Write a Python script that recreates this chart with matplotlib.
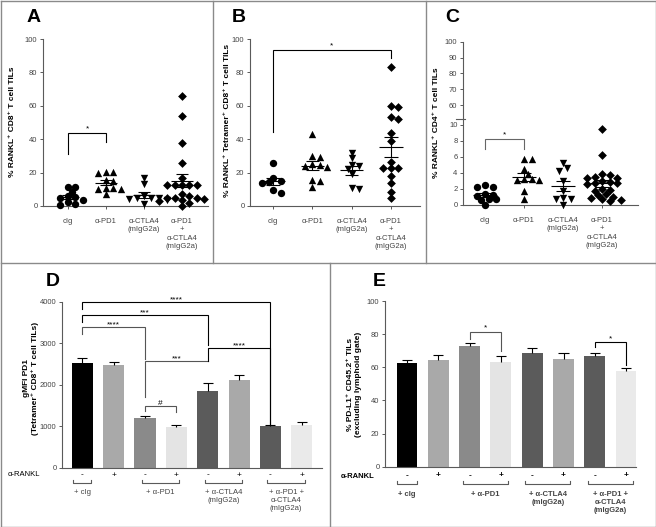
import numpy as np
import matplotlib
matplotlib.use("Agg")
import matplotlib.pyplot as plt
import matplotlib.transforms as mtransforms
from matplotlib.lines import Line2D

plt.rcParams['font.family'] = ['Liberation Sans', 'DejaVu Sans']

W, H = 656, 527

# ---- panels A-C: individual mice ----
abc_groups = ["cIg", "α-PD1", "α-CTLA4\n(mIgG2a)", "α-PD1\n+\nα-CTLA4\n(mIgG2a)"]
abc_markers = ["o", "^", "v", "D"]

a_cig = [11.5, 11.5, 8.5, 6, 5.5, 4.5, 3.5, 2.5, 1, 0.8]
a_pd1 = [20.5, 20.5, 20, 15.5, 15, 11, 10.5, 10, 10, 7]
a_ctla4 = [17, 13, 6, 5, 5, 4.5, 4, 3.5, 1]
a_combo = [66, 54, 37.5, 25.5, 16.5, 12.5, 12.5, 12.5, 12.5, 12.5,
           7, 6, 5, 5, 4.5, 4, 3.5, 3, 1.5, 0]

b_cig = [25.5, 17, 15, 14.5, 13.5, 9.5, 8]
b_pd1 = [43, 30, 29.5, 25, 24.5, 24, 23.5, 15.5, 15, 11.5]
b_ctla4 = [32, 28.5, 24.5, 24, 22, 19, 11, 10]
b_combo = [83, 60, 59, 53, 52, 43.5, 39, 26.5, 23, 23, 22.5, 18, 14, 8.5, 5]

c_cig = [2.5, 2.3, 2.2, 1.4, 1.3, 1.1, 0.8, 0.7, 0.6, 0.0]
c_pd1 = [5.7, 5.7, 4.5, 3.9, 3.3, 3.2, 3.1, 3.1, 1.7, 0.8]
c_ctla4 = [5.2, 4.6, 4.2, 3.0, 1.8, 0.9, 0.8, 0.8, 0.0]
c_combo = [9.5, 6.3, 3.9, 3.8, 3.5, 3.4, 3.4, 3.0, 2.9, 2.8, 2.7, 2.6,
           2.0, 1.9, 1.8, 1.4, 1.3, 1.0, 0.9, 0.7, 0.6, 0.5]

# ---- panels D-E: bars (mean, SEM) ----
rankl_signs = ["-", "+", "-", "+", "-", "+", "-", "+"]
treat_labels = ["+ cIg", "+ α-PD1", "+ α-CTLA4\n(mIgG2a)", "+ α-PD1 +\nα-CTLA4\n(mIgG2a)"]
treat_spans = [(0, 0), (2, 3), (4, 5), (6, 7)]
bar_colors = ["#000000", "#a9a9a9", "#8a8a8a", "#e4e4e4",
              "#5b5b5b", "#a9a9a9", "#5b5b5b", "#eaeaea"]

d_mean = [2520, 2470, 1185, 985, 1850, 2100, 990, 1025]
d_sem = [125, 65, 60, 45, 190, 130, 35, 75]
e_mean = [62.5, 64.2, 72.9, 63.1, 68.9, 64.8, 66.8, 57.5]
e_sem = [1.8, 3.2, 1.6, 3.6, 2.6, 3.6, 1.7, 2.0]

# significance: (x1, x2, y, leg1 bottom, leg2 bottom, label, colour)
d_sig = [(0, 6, 3983, 3830, 1060, "****", "black"),
         (0, 4, 3680, 3520, 2950, "***", "black"),
         (0, 2, 3380, 3220, 2620, "****", "#555555"),
         (2, 4, 2562, 1710, 2562, "***", "#555555"),
         (4, 6, 2884, 2562, 1060, "****", "black"),
         (2, 3, 1494, 1373, 1350, "#", "#555555")]
e_sig = [(2, 3, 81.5, 77, 70, "*", "#555555"),
         (6, 7, 75, 72.4, 61.4, "*", "black")]

AX_COL = "#5a5a5a"
TXT_COL = "#444444"

fig = plt.figure(figsize=(W / 100, H / 100), dpi=100)


def px_axes(left, top, right, bottom):
    return fig.add_axes([left / W, 1 - bottom / H, (right - left) / W, (bottom - top) / H])


def style(ax, bottom=True):
    ax.set_facecolor("none")
    for s in ["top", "right"]:
        ax.spines[s].set_visible(False)
    for s in ["left", "bottom"]:
        ax.spines[s].set_color(AX_COL)
        ax.spines[s].set_linewidth(0.8)
    if not bottom:
        ax.spines["bottom"].set_visible(False)
    ax.tick_params(colors=AX_COL, labelcolor=TXT_COL, labelsize=5.5,
                   length=2.5, width=0.7, pad=1.5)


def xlim_for(ax, L, R, c0, s):
    ax.set_xlim(-(c0 - L) / s, (R - c0) / s)


def swarm(ax, xc, vals, d):
    # simple beeswarm layout in pixel space
    pts = ax.transData.transform(np.column_stack([np.full(len(vals), xc), vals]))
    order = np.argsort(-pts[:, 1])
    placed = []
    out = pts.copy()
    step = d * 0.5
    for i in order:
        y = pts[i, 1]
        for k in range(60):
            off = ((k + 1) // 2) * step * (1 if k % 2 else -1)
            x = pts[i, 0] + off
            if all((x - px) ** 2 + (y - py) ** 2 >= (d * 0.72) ** 2 for px, py in placed):
                break
        placed.append((x, y))
        out[i, 0] = x
    return ax.transData.inverted().transform(out)[:, 0]


def dots(ax, groups, size_px=7.5):
    for i, vals in enumerate(groups):
        vals = np.array(vals, dtype=float)
        xs = swarm(ax, i, vals, size_px)
        m = abc_markers[i]
        ax.scatter(xs, vals, marker=m, s=20 if m == "D" else 28, c="black",
                   linewidths=0, clip_on=False, zorder=3)
        mean = vals.mean()
        sem = vals.std(ddof=1) / np.sqrt(len(vals))
        ax.hlines(mean, i - 0.3, i + 0.3, color="black", lw=0.8, zorder=4)
        ax.hlines([mean - sem, mean + sem], i - 0.17, i + 0.17, color="black", lw=0.8, zorder=4)
        ax.vlines(i, mean - sem, mean + sem, color="black", lw=0.8, zorder=4)


def bracket(ax, x1, x2, y, b1, b2, label, color, off=2.5, fs=6):
    ax.plot([x1, x1, x2, x2], [b1, y, y, b2], color=color, lw=0.8,
            clip_on=False, solid_joinstyle="miter")
    ax.annotate(label, ((x1 + x2) / 2, y), xytext=(0, off), textcoords="offset points",
                ha="center", va="center", fontsize=fs, color="black",
                annotation_clip=False)


def abc_xticks(ax):
    ax.set_xticks(range(4))
    ax.set_xticklabels(abc_groups, fontsize=5.5, linespacing=1.3, color=TXT_COL)
    ax.tick_params(axis="x", pad=6)


# ---------------- A ----------------
axA = px_axes(43, 39, 208, 206)
style(axA)
axA.set_ylim(0, 100)
axA.set_yticks(range(0, 101, 20))
xlim_for(axA, 43, 208, 68, 38)
abc_xticks(axA)
dots(axA, [a_cig, a_pd1, a_ctla4, a_combo])
bracket(axA, 0, 1, 43.5, 31, 38.5, "*", "black", off=3)

# ---------------- B ----------------
axB = px_axes(250, 39, 420, 206)
style(axB)
axB.set_ylim(0, 100)
axB.set_yticks(range(0, 101, 20))
xlim_for(axB, 250, 420, 273, 39.3)
abc_xticks(axB)
dots(axB, [b_cig, b_pd1, b_ctla4, b_combo])
bracket(axB, 0, 3, 93.4, 44.5, 88.6, "*", "black", off=3)

# ---------------- C (broken axis) ----------------
axC = px_axes(463, 119, 638, 205)
style(axC)
axC.set_ylim(0, 10.75)
axC.set_yticks(range(0, 11, 2))
xlim_for(axC, 463, 638, 485, 39)
abc_xticks(axC)
dots(axC, [c_cig, c_pd1, c_ctla4, c_combo])
bracket(axC, 0, 1, 8.3, 7.0, 7.0, "*", "#666666", off=3)

axC2 = px_axes(463, 41.7, 638, 119)
style(axC2, bottom=False)
axC2.set_ylim(51.2, 100)
axC2.set_yticks(range(60, 101, 10))
axC2.set_xticks([])
xlim_for(axC2, 463, 638, 485, 39)
fig.add_artist(Line2D([456 / W, 465 / W], [1 - 119 / H, 1 - 119 / H],
                      color=AX_COL, lw=0.8))


# ---------------- D / E ----------------
def bar_panel(ax, means, sems, L, R, c0, s):
    x = np.arange(len(means))
    means = np.array(means, dtype=float)
    sems = np.array(sems, dtype=float)
    xlim_for(ax, L, R, c0, s)
    ax.bar(x, means, width=0.67, color=bar_colors, zorder=2)
    ax.vlines(x, means, means + sems, color="black", lw=0.8, zorder=3)
    ax.hlines(means + sems, x - 0.16, x + 0.16, color="black", lw=0.8, zorder=3)
    ax.set_xticks([])


def bar_footer(ax, rankl_x, y_sign, y_brk, y_lab, pad, single_pad, bold):
    tr = mtransforms.blended_transform_factory(ax.transData, fig.transFigure)
    fy = lambda py: 1 - py / H
    wt = "bold" if bold else "normal"
    fig.text(rankl_x / W, fy(y_sign), "α-RANKL", fontsize=5.5, ha="center",
             va="center", color="black", weight=wt)
    for i, sg in enumerate(rankl_signs):
        ax.text(i, fy(y_sign), sg, transform=tr, fontsize=6, ha="center",
                va="center", color="black", weight=wt)
    for (i, j), lab in zip(treat_spans, treat_labels):
        p = single_pad if i == j else pad
        x1, x2 = i - p, j + p
        ax.plot([x1, x1, x2, x2], [fy(y_brk - 3), fy(y_brk), fy(y_brk), fy(y_brk - 3)],
                transform=tr, color=AX_COL, lw=0.8, clip_on=False)
        ax.text((i + j) / 2, fy(y_lab), lab, transform=tr, fontsize=5.5,
                ha="center", va="top", linespacing=1.25, color=TXT_COL, weight=wt)


axD = px_axes(62, 301.7, 322, 467.5)
style(axD)
axD.set_ylim(0, 4000)
axD.set_yticks(range(0, 4001, 1000))
bar_panel(axD, d_mean, d_sem, 62, 322, 82.3, 31.35)
for sg in d_sig:
    bracket(axD, *sg, off=1.5, fs=6)
bar_footer(axD, 24, 475, 483, 489, 0.1, 0.29, False)

axE = px_axes(385, 301, 636, 466.7)
style(axE)
axE.set_ylim(0, 100)
axE.set_yticks(range(0, 101, 20))
bar_panel(axE, e_mean, e_sem, 385, 636, 407, 31.3)
for sg in e_sig:
    bracket(axE, *sg, off=2.5, fs=6)
bar_footer(axE, 358, 476, 484, 491, 0.22, 0.32, True)

# ---------------- labels ----------------
ylab = dict(rotation=90, ha="center", va="center", fontsize=6, weight="bold",
            color="black", linespacing=1.2)
fig.text(13 / W, 1 - 122 / H, "% RANKL⁺ CD8⁺ T cell TILs", **ylab)
fig.text(228 / W, 1 - 120 / H, "% RANKL⁺ Tetramer⁺ CD8⁺ T cell TILs", **ylab)
fig.text(437 / W, 1 - 123 / H, "% RANKL⁺ CD4⁺ T cell TILs", **ylab)
fig.text(31 / W, 1 - 378 / H, "gMFI PD1\n(Tetramer⁺ CD8⁺ T cell TILs)", **ylab)
fig.text(355 / W, 1 - 384 / H, "% PD-L1⁺ CD45.2⁺ TILs\n(excluding lymphoid gate)", **ylab)

for letter, px, py in [("A", 33.5, 17), ("B", 238.5, 17), ("C", 452, 17),
                       ("D", 52.5, 281.5), ("E", 379, 281)]:
    fig.text(px / W, 1 - py / H, letter, fontsize=14, weight="bold",
             ha="center", va="center", color="black")

# ---------------- frame ----------------
frame = dict(color="#8a8a8a", lw=1)
for xs, ys in [([0.5, 655.5], [0.5, 0.5]), ([0.5, 655.5], [526.5, 526.5]),
               ([0.5, 0.5], [0.5, 526.5]), ([655.5, 655.5], [0.5, 526.5]),
               ([0.5, 655.5], [263, 263]), ([213, 213], [0.5, 263]),
               ([426, 426], [0.5, 263]), ([330, 330], [263, 526.5])]:
    fig.add_artist(Line2D([x / W for x in xs], [1 - y / H for y in ys], **frame))

fig.savefig("out.png", dpi=100)
